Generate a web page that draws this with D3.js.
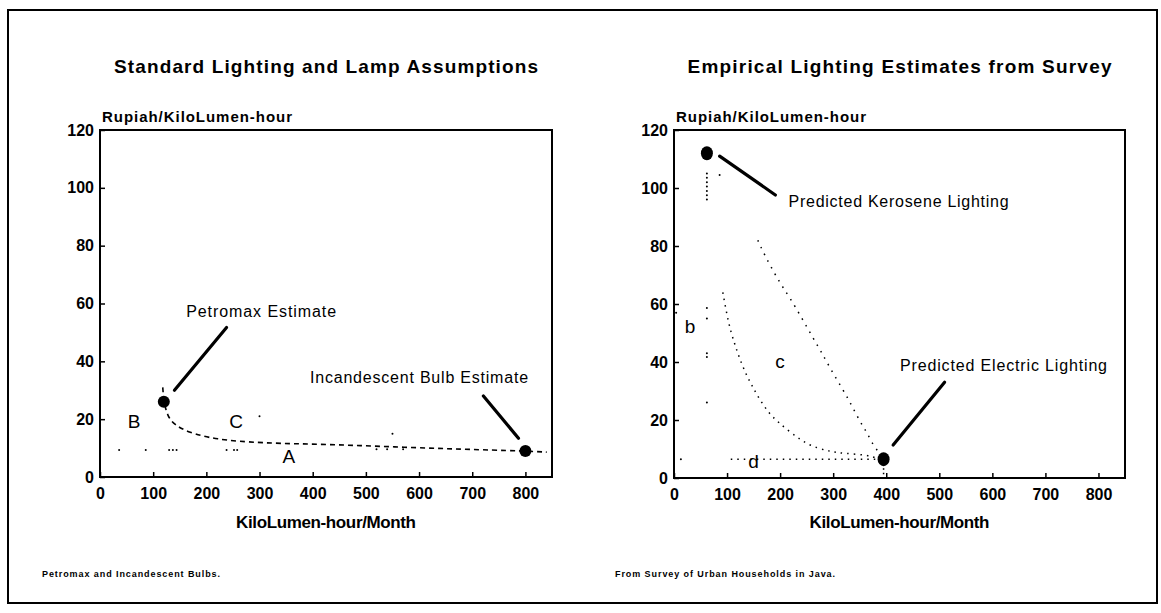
<!DOCTYPE html>
<html><head><meta charset="utf-8">
<script src="https://cdn.jsdelivr.net/npm/d3@7"></script>
<style>
body{margin:0;background:#fff;}
text{font-family:"Liberation Sans",Arial,sans-serif;fill:#000;}
</style></head>
<body><svg id="c" width="1161" height="613"></svg>
<script>
// ---------- data ----------
const xTicks = [0,100,200,300,400,500,600,700,800];
const yTicks = [0,20,40,60,80,100,120];
const titles = ["Standard Lighting and Lamp Assumptions","Empirical Lighting Estimates from Survey"];
const yAxisLabel = "Rupiah/KiloLumen-hour";
const xAxisLabel = "KiloLumen-hour/Month";
const footnotes = ["Petromax and Incandescent Bulbs.","From Survey of Urban Households in Java."];

// left panel
const leftCurveC = [[118,31],[120,26],[127,21],[140,18],[166,15.5],[215,13],[303,11.7],[429,11.3],[554,10.4],[680,9.6],[800,9],[840,8.6]];
const leftLineA = [[36,9.3],[86,9.3],[130,9.3],[137,9.3],[144,9.3],[238,9.3],[252,9.3],[258,9.3],[520,9.6],[540,9.6],[570,9.6]];
const leftStray = [[300,21],[550,15]];
const leftPoints = [[120,26],[800,9]];
const leftLetters = [["B",64,17],["C",256,17],["A",355,5]];
const leftNotes = [
  {text:"Petromax Estimate", tx:162, ty:55.5, w:150, from:[238,51.7], to:[140,30]},
  {text:"Incandescent Bulb Estimate", tx:395, ty:32.4, w:218, from:[721,28], to:[787,13.4]}
];

// right panel
const rightCurveB = [[62,105],[62,103.5],[62,102],[62,100.5],[62,99],[62,97.5],[62,96],[62,58.6],[62,55],[62,43],[62,41.7],[62,26],[86,104.5]];
const rightCurveCLeft = [[92,64],[103,53],[113,47],[122,42],[135,36],[148,31.5],[160,27.5],[178,22.5],[195,19.4],[242,12.4],[270,10.3],[298,9],[319,8.5],[364,8],[388,6.5]];
const rightCurveCRight = [[158,82],[169,77.5],[191,70],[206,65.5],[225,60.3],[266,47],[279,43],[293,38.3],[310,33],[326,28],[332,26],[356,17.6],[363,16],[377,10.7],[388,8.6]];
const rightLineD = [[107,6.5],[413,6.5]];
const rightDrop = [[395,6.5],[395,0]];
const rightStray = [[13,6.5],[4,57]];
const rightPoints = [[62,112],[395,6.5]];
const rightLetters = [["b",30,50],["c",200,38],["d",150,3.5]];
const rightNotes = [
  {text:"Predicted Kerosene Lighting", tx:216, ty:93.4, w:220, from:[86,111], to:[191,97.6]},
  {text:"Predicted Electric Lighting", tx:426, ty:36.9, w:207, from:[510,33], to:[413,11.4]}
];

// ---------- drawing ----------
const svg = d3.select("#c");
svg.append("rect").attr("x",8).attr("y",10).attr("width",1149).attr("height",593)
  .attr("fill","none").attr("stroke","#000").attr("stroke-width",2);

function panel(o){
  const x = d3.scaleLinear().domain([0,850]).range([o.x0,o.x1]);
  const y = d3.scaleLinear().domain([0,120]).range([o.y0,o.y1]);
  const g = svg.append("g");
  g.append("text").attr("x",(o.x0+o.x1)/2).attr("y",73).attr("text-anchor","middle")
    .attr("font-size",19).attr("font-weight","bold").attr("textLength",424).attr("lengthAdjust","spacing").text(o.title);
  g.append("text").attr("x",o.x0+2).attr("y",122).attr("font-size",15).attr("font-weight","bold")
    .attr("textLength",190).attr("lengthAdjust","spacing").text(yAxisLabel);
  const xa = g.append("g").attr("transform",`translate(0,${o.y0})`)
    .call(d3.axisBottom(x).tickValues(xTicks).tickSize(-5).tickPadding(11).tickFormat(d3.format("d")));
  const ya = g.append("g").attr("transform",`translate(${o.x0},0)`)
    .call(d3.axisLeft(y).tickValues(yTicks).tickSize(-5).tickPadding(6).tickFormat(d3.format("d")));
  [xa,ya].forEach(a=>{a.select(".domain").remove();
    a.selectAll("line").attr("stroke","#000").attr("stroke-width",1.5);
    a.selectAll("text").attr("font-size",16).attr("font-weight","bold").attr("font-family","Liberation Sans, Arial, sans-serif");});
  g.append("rect").attr("x",o.x0).attr("y",o.y1).attr("width",o.x1-o.x0).attr("height",o.y0-o.y1)
    .attr("fill","none").attr("stroke","#000").attr("stroke-width",2);
  g.append("text").attr("x",(o.x0+o.x1)/2).attr("y",528).attr("text-anchor","middle")
    .attr("font-size",17).attr("font-weight","bold").attr("textLength",180).attr("lengthAdjust","spacing").text(xAxisLabel);
  g.append("text").attr("x",o.fx).attr("y",577).attr("font-size",9).attr("font-weight","bold")
    .attr("textLength",o.fw).attr("lengthAdjust","spacing").text(o.foot);
  const line = d3.line().x(d=>x(d[0])).y(d=>y(d[1]));
  o.lines.forEach(l=>{
    g.append("path").attr("d",line.curve(l.curve||d3.curveLinear)(l.data)).attr("fill","none")
      .attr("stroke","#000").attr("stroke-width",l.w||1.5).attr("stroke-dasharray",l.dash);
  });
  o.dots.forEach(ds=>{
    g.selectAll(null).data(ds).join("circle").attr("cx",d=>x(d[0])).attr("cy",d=>y(d[1])).attr("r",1).attr("fill","#000");
  });
  g.selectAll(null).data(o.points).join("ellipse").attr("cx",d=>x(d[0])).attr("cy",d=>y(d[1]))
    .attr("rx",6).attr("ry",o.ry).attr("fill","#000");
  g.selectAll(null).data(o.letters).join("text").attr("x",d=>x(d[1])).attr("y",d=>y(d[2]))
    .attr("text-anchor","middle").attr("font-size",19).text(d=>d[0]);
  o.notes.forEach(n=>{
    g.append("text").attr("x",x(n.tx)).attr("y",y(n.ty)).attr("font-size",16)
      .attr("textLength",n.w).attr("lengthAdjust","spacing").text(n.text);
    g.append("line").attr("x1",x(n.from[0])).attr("y1",y(n.from[1])).attr("x2",x(n.to[0])).attr("y2",y(n.to[1]))
      .attr("stroke","#000").attr("stroke-width",3.2).attr("stroke-linecap","round");
  });
}

panel({x0:100,x1:552,y0:477,y1:130,title:titles[0],foot:footnotes[0],fx:42,fw:178,ry:6,
  lines:[{data:leftCurveC,curve:d3.curveBasis,dash:"5,4",w:1.6}],
  dots:[leftLineA,leftStray],points:leftPoints,letters:leftLetters,notes:leftNotes});

panel({x0:674,x1:1125,y0:478,y1:130,title:titles[1],foot:footnotes[1],fx:615,fw:220,ry:7,
  lines:[{data:rightCurveCLeft,curve:d3.curveBasis,dash:"1.5,5",w:1.5},
         {data:rightCurveCRight,curve:d3.curveBasis,dash:"1.5,6",w:1.5},
         {data:rightLineD,dash:"1.5,5",w:1.5},
         {data:rightDrop,dash:"1.5,3",w:1.5}],
  dots:[rightCurveB,rightStray],points:rightPoints,letters:rightLetters,notes:rightNotes});
</script></body></html>
